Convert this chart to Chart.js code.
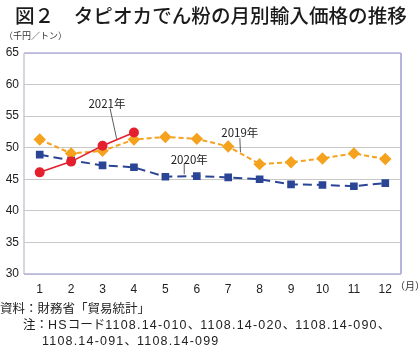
<!DOCTYPE html>
<html><head><meta charset="utf-8">
<script src="https://cdn.jsdelivr.net/npm/chart.js@4"></script>
<style>
html,body{margin:0;padding:0;background:#fff;}
#wrap{position:relative;width:420px;height:356px;overflow:hidden;font-family:"Noto Sans CJK JP","Noto Sans",sans-serif;color:#222;}
canvas{position:absolute;left:0;top:0;}
.t{position:absolute;white-space:nowrap;line-height:1;}
.n{font-family:"Liberation Sans","Noto Sans CJK JP",sans-serif;}
.d{letter-spacing:1.2px;}
</style></head><body>
<div id="wrap">
<canvas id="c" width="420" height="356"></canvas>
<div class="t" style="left:15px;top:5px;font-size:19.6px;font-weight:500;color:#1a1a1a;">図２　タピオカでん粉の月別輸入価格の推移</div>
<div class="t" style="left:4px;top:31px;font-size:9px;color:#333;">（千円／トン）</div>
<div class="t" style="left:395px;top:281px;font-size:10px;color:#333;">（月）</div>
<div class="t n" style="left:0px;top:303px;font-size:12.5px;color:#222;">資料：財務省「貿易統計」</div>
<div class="t n" style="left:23px;top:319px;font-size:12.5px;color:#222;">注：<span class="d">HS</span>コード<span class="d">1108.14-010</span>、<span class="d">1108.14-020</span>、<span class="d">1108.14-090</span>、</div>
<div class="t n" style="left:42px;top:335px;font-size:12.5px;color:#222;"><span class="d">1108.14-091</span>、<span class="d">1108.14-099</span></div>
</div>
<script>
const months = ['1','2','3','4','5','6','7','8','9','10','11','12'];
const yTicks = [30,35,40,45,50,55,60,65];
const s2019 = [51.3,49.1,49.5,51.3,51.7,51.4,50.2,47.4,47.7,48.3,49.1,48.2];
const s2020 = [48.9,48.0,47.2,46.9,45.4,45.5,45.3,45.0,44.2,44.1,43.9,44.4];
const s2021 = [46.1,47.8,50.3,52.4,null,null,null,null,null,null,null,null];
const seriesNames = ['2021年','2019年','2020年'];
// annotation label anchors in data units: [xIndex, value], leader line from/to
const notes = [
  {text:'2021年', at:[2.14,57.0], from:[2.24,56.2], to:[2.45,51.4]},
  {text:'2019年', at:[6.37,52.4], from:[6.37,51.5], to:[6.39,49.3]},
  {text:'2020年', at:[4.76,48.1], from:[4.60,47.5], to:[4.60,45.8]}
];
const tickFont = {family:"'Liberation Sans Narrow','Liberation Sans',Arial,sans-serif", size:12};

const annotPlugin = {
  id:'annot',
  afterDatasetsDraw(chart){
    const {ctx, scales:{x,y}} = chart;
    ctx.save();
    ctx.strokeStyle = '#333'; ctx.lineWidth = 0.8;
    ctx.fillStyle = '#222';
    ctx.font = "11.5px 'Liberation Sans Narrow','Noto Sans CJK JP',sans-serif";
    ctx.textAlign='center'; ctx.textBaseline='middle';
    notes.forEach(n=>{
      ctx.beginPath();
      ctx.moveTo(x.getPixelForValue(n.from[0]), y.getPixelForValue(n.from[1]));
      ctx.lineTo(x.getPixelForValue(n.to[0]), y.getPixelForValue(n.to[1]));
      ctx.stroke();
      ctx.fillText(n.text, x.getPixelForValue(n.at[0]), y.getPixelForValue(n.at[1]));
    });
    ctx.restore();
  },
  beforeDatasetsDraw(chart){
    const {ctx, chartArea:a} = chart;
    ctx.save();
    ctx.strokeStyle = '#b4b4dc';
    ctx.lineWidth = 1.5;
    ctx.beginPath();
    ctx.moveTo(a.left, a.top); ctx.lineTo(a.right, a.top);
    ctx.moveTo(a.left, a.bottom); ctx.lineTo(a.right, a.bottom);
    ctx.stroke();
    ctx.lineWidth = 2;
    ctx.beginPath(); ctx.moveTo(a.right, a.top); ctx.lineTo(a.right, a.bottom); ctx.stroke();
    ctx.strokeStyle = '#c8c8d0'; ctx.lineWidth = 1.5;
    ctx.beginPath(); ctx.moveTo(a.left, a.top); ctx.lineTo(a.left, a.bottom); ctx.stroke();
    ctx.restore();
  }
};

new Chart(document.getElementById('c'), {
  type:'line',
  data:{
    labels: months,
    datasets:[
      {label:seriesNames[0], data:s2021, borderColor:'#e5202e', backgroundColor:'#e5202e', borderWidth:1.6,
       pointStyle:'circle', pointRadius:4.2, spanGaps:false},
      {label:seriesNames[1], data:s2019, borderColor:'#f5a21f', backgroundColor:'#f5a21f', borderWidth:2,
       borderDash:[5,3], pointStyle:'rectRot', pointRadius:4.8},
      {label:seriesNames[2], data:s2020, borderColor:'#2b4596', backgroundColor:'#2b4596', borderWidth:2,
       borderDash:[9,5], pointStyle:'rect', pointRadius:4}
    ]
  },
  options:{
    responsive:false, animation:false,
    layout:{padding:{left:0,right:19,top:53,bottom:0}},
    plugins:{legend:{display:false}, tooltip:{enabled:false}},
    elements:{line:{tension:0}},
    scales:{
      x:{offset:true, grid:{display:false, drawTicks:false}, border:{display:false},
         ticks:{font:tickFont, color:'#222', padding:8, maxRotation:0, autoSkip:false},
         afterFit(s){ s.height = 82; }},
      y:{min:30, max:65, grid:{color:'#c8c8c8', lineWidth:1, drawTicks:false}, border:{display:false},
         afterBuildTicks(s){ s.ticks = yTicks.map(v=>({value:v})); },
         ticks:{font:tickFont, color:'#222', padding:5},
         afterFit(s){ s.width = 24; }}
    }
  },
  plugins:[annotPlugin]
});
</script>
</body></html>
